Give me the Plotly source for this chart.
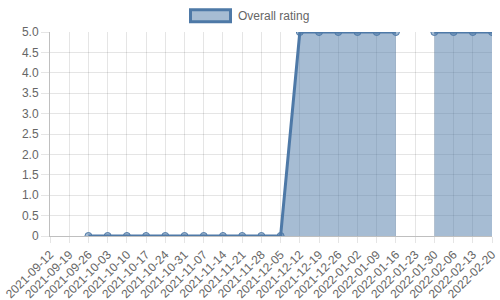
import plotly.graph_objects as go

categories = ["2021-09-12", "2021-09-19", "2021-09-26", "2021-10-03", "2021-10-10",
              "2021-10-17", "2021-10-24", "2021-10-31", "2021-11-07", "2021-11-14",
              "2021-11-21", "2021-11-28", "2021-12-05", "2021-12-12", "2021-12-19",
              "2021-12-26", "2022-01-02", "2022-01-09", "2022-01-16", "2022-01-23",
              "2022-01-30", "2022-02-06", "2022-02-13", "2022-02-20"]
overall_rating = [None, None, 0, 0, 0, 0, 0, 0, 0, 0, 0, 0, 0,
                  5, 5, 5, 5, 5, 5, None, 5, 5, 5, 5]
y_tick_vals = [0, 0.5, 1.0, 1.5, 2.0, 2.5, 3.0, 3.5, 4.0, 4.5, 5.0]
y_tick_text = ["0", "0.5", "1.0", "1.5", "2.0", "2.5", "3.0", "3.5", "4.0", "4.5", "5.0"]
series_name = "Overall rating"

LINE = "rgb(78,121,167)"
FILL = "rgba(78,121,167,0.5)"
GRID = "rgba(0,0,0,0.1)"
FONT = "Liberation Sans, Arial, sans-serif"

fig = go.Figure()

# split the series into contiguous (non-null) runs so the fill breaks at gaps
segments, cur = [], []
for c, v in zip(categories, overall_rating):
    if v is None:
        if cur:
            segments.append(cur)
        cur = []
    else:
        cur.append((c, v))
if cur:
    segments.append(cur)

for seg in segments:
    fig.add_trace(go.Scatter(
        x=[s[0] for s in seg], y=[s[1] for s in seg],
        mode="lines", fill="tozeroy", fillcolor=FILL,
        line=dict(width=0, color="rgba(0,0,0,0)"),
        showlegend=False, hoverinfo="skip",
    ))

fig.add_trace(go.Scatter(
    x=categories, y=overall_rating, name=series_name,
    mode="lines+markers", connectgaps=False,
    line=dict(color=LINE, width=3),
    marker=dict(size=7, color=FILL, line=dict(color=LINE, width=1)),
    showlegend=False,
))

L, R, T, B = 50, 8, 32, 64
pw, ph = 500 - L - R, 300 - T - B

def px(x):
    return (x - L) / pw

def py(y):
    return (300 - B - y) / ph

fig.add_shape(type="rect", xref="paper", yref="paper",
              x0=px(190.5), x1=px(230.5), y0=py(21.8), y1=py(9.8),
              line=dict(color=LINE, width=3), fillcolor=FILL, layer="above")
fig.add_annotation(xref="paper", yref="paper", x=px(236), y=py(15.5),
                   text=series_name, showarrow=False, xanchor="left", yanchor="middle",
                   font=dict(family=FONT, size=12, color="#666"))

fig.update_layout(
    width=500, height=300,
    margin=dict(l=L, r=R, t=T, b=B, autoexpand=False),
    paper_bgcolor="white", plot_bgcolor="white",
    font=dict(family=FONT, size=12, color="#666"),
    showlegend=False,
)
fig.update_xaxes(
    type="category", categoryorder="array", categoryarray=categories,
    range=[0, len(categories) - 1],
    showgrid=True, gridcolor=GRID, gridwidth=1,
    ticks="outside", ticklen=6, tickcolor=GRID,
    tickangle=-45, tickfont=dict(size=12, color="#666"),
    showline=True, linecolor="rgba(0,0,0,0.25)", linewidth=1,
    zeroline=False, automargin=False,
)
fig.update_yaxes(
    range=[0, 5], tickvals=y_tick_vals, ticktext=y_tick_text,
    showgrid=True, gridcolor=GRID, gridwidth=1,
    ticks="outside", ticklen=8, tickcolor=GRID,
    tickfont=dict(size=12, color="#666"),
    showline=True, linecolor="rgba(0,0,0,0.25)", linewidth=1,
    zeroline=False, automargin=False,
)

fig.write_html("out.html")
